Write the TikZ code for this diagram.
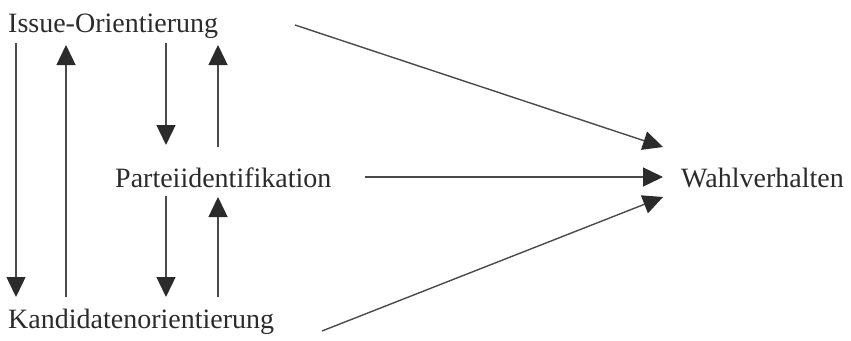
\documentclass[tikz,border=0pt]{standalone}
\usepackage{fontspec}
\setmainfont{Liberation Serif}
\usetikzlibrary{arrows.meta}
\definecolor{txt}{HTML}{2B2B2B}
\definecolor{ln}{HTML}{4A4A4A}
\tikzset{
  lbl/.style={anchor=base west, inner sep=0pt, text=txt, font=\fontsize{28}{30}\selectfont},
  arr/.style={draw=ln, line width=1.4pt, -{Triangle[width=19pt,length=20pt,fill=txt,color=txt]}},
}
\begin{document}
\begin{tikzpicture}[x=1pt,y=-1pt]
\useasboundingbox (0,0) rectangle (851,340);
\node[lbl] (issue) at (8,32) {Issue-Orientierung};
\node[lbl] (partei) at (115,187) {Parteiidentifikation};
\node[lbl] (kand) at (8,328) {Kandidatenorientierung};
\node[lbl] (wahl) at (681,187) {Wahlverhalten};
% arrow endpoints
\coordinate (a1s) at (16,43);   \coordinate (a1e) at (16,297);
\coordinate (a2s) at (66,297);  \coordinate (a2e) at (66,45);
\coordinate (a3s) at (166,43);  \coordinate (a3e) at (166,145);
\coordinate (a4s) at (218,147); \coordinate (a4e) at (218,45);
\coordinate (a5s) at (166,196); \coordinate (a5e) at (166,297);
\coordinate (a6s) at (218,297); \coordinate (a6e) at (218,197);
\coordinate (d1s) at (295,25);  \coordinate (d1e) at (663,147);
\coordinate (d2s) at (365,177); \coordinate (d2e) at (663,177);
\coordinate (d3s) at (322,331); \coordinate (d3e) at (663,197);
\draw[arr] (a1s) -- (a1e);
\draw[arr] (a2s) -- (a2e);
\draw[arr] (a3s) -- (a3e);
\draw[arr] (a4s) -- (a4e);
\draw[arr] (a5s) -- (a5e);
\draw[arr] (a6s) -- (a6e);
\draw[arr] (d1s) -- (d1e);
\draw[arr] (d2s) -- (d2e);
\draw[arr] (d3s) -- (d3e);
\end{tikzpicture}
\end{document}
